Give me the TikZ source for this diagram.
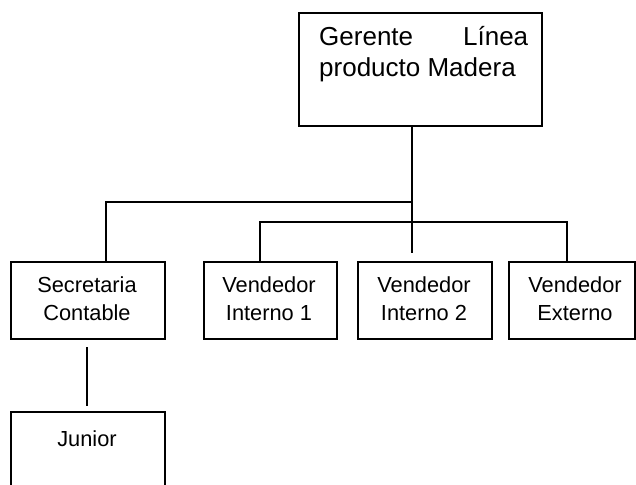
\documentclass[tikz,border=0pt]{standalone}
\usepackage{fontspec}
\setmainfont{Liberation Sans}
\begin{document}
\begin{tikzpicture}[x=1pt,y=-1pt,
  box/.style={draw=black,line width=1.6pt,fill=white,inner sep=0pt,anchor=north west},
  link/.style={draw=black,line width=1.6pt},
  bigtxt/.style={inner sep=0pt,font=\fontsize{26}{31}\selectfont},
  smalltxt/.style={inner sep=0pt,font=\fontsize{21.8}{28}\selectfont}]
\useasboundingbox (0,0) rectangle (636,484);
\clip (0,0) rectangle (636,484);

% boxes
\node[box,minimum width=243pt,minimum height=113pt] (ger) at (298,12) {};
\node[box,minimum width=154pt,minimum height=77pt] (sec) at (10,261) {};
\node[box,minimum width=133pt,minimum height=77pt] (v1) at (203,261) {};
\node[box,minimum width=134pt,minimum height=77pt] (v2) at (357,261) {};
\node[box,minimum width=126pt,minimum height=77pt] (ext) at (508,261) {};
\node[box,minimum width=154pt,minimum height=130pt] (jun) at (10,411) {};

% labels
\node[bigtxt,anchor=base west] (gert) at (319,46)
  {\parbox[t]{209pt}{Gerente\hfill Línea\\producto Madera}};
\node[smalltxt,anchor=base] (sect) at (87,292)
  {\parbox[t]{150pt}{\centering Secretaria\\Contable}};
\node[smalltxt,anchor=base] (v1t) at (269,292)
  {\parbox[t]{130pt}{\centering Vendedor\\Interno 1}};
\node[smalltxt,anchor=base] (v2t) at (424,292)
  {\parbox[t]{130pt}{\centering Vendedor\\Interno 2}};
\node[smalltxt,anchor=base] (extt) at (575,292)
  {\parbox[t]{120pt}{\centering Vendedor\\Externo}};
\node[smalltxt,anchor=base] (junt) at (87,446) {Junior};

% branch points and free ends
\coordinate (trunkend) at (412,253);
\coordinate (upper) at (412,202);
\coordinate (secx) at (106,202);
\coordinate (v1x) at (260,222);
\coordinate (extx) at (567,222);
\coordinate (jtop) at (87,347);
\coordinate (jbot) at (87,406);

% connectors
\draw[link] (ger.south -| trunkend) -- (trunkend);
\draw[link] (upper) -- (secx) -- (sec.north -| secx);
\draw[link] (v1.north -| v1x) -- (v1x) -- (extx) -- (ext.north -| extx);
\draw[link] (jtop) -- (jbot);
\end{tikzpicture}
\end{document}
